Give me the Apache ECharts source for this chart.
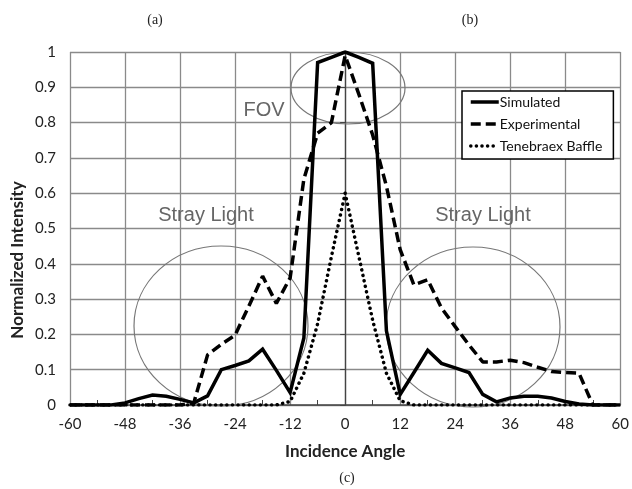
<!DOCTYPE html>
<html>
<head>
<meta charset="utf-8">
<script src="https://cdn.jsdelivr.net/npm/echarts@6/dist/echarts.min.js"></script>
<style>
    html, body { margin: 0; background: #fff; }
    #chart { width: 632px; height: 489px; }
</style>
</head>
<body>
<div id="chart"></div>
<script>
// incidence angle, every 3 degrees
const angles = [-60, -57, -54, -51, -48, -45, -42, -39, -36, -33, -30, -27, -24, -21, -18, -15, -12, -9, -6, -3,
    0, 3, 6, 9, 12, 15, 18, 21, 24, 27, 30, 33, 36, 39, 42, 45, 48, 51, 54, 57, 60]
const simulated = [0, 0, 0, 0, 0.006, 0.018, 0.028, 0.025, 0.016, 0.006, 0.026, 0.1, 0.112, 0.125, 0.158, 0.098, 0.035, 0.19, 0.97, 0.985,
    1.0, 0.985, 0.968, 0.21, 0.03, 0.092, 0.155, 0.118, 0.105, 0.092, 0.03, 0.009, 0.02, 0.025, 0.025, 0.02, 0.01, 0.003, 0, 0, 0]
const experimental = [0, 0, 0, 0, 0, 0, 0, 0, 0, 0.006, 0.142, 0.172, 0.198, 0.28, 0.365, 0.288, 0.36, 0.64, 0.77, 0.8,
    0.99, 0.88, 0.765, 0.62, 0.44, 0.34, 0.355, 0.275, 0.222, 0.17, 0.122, 0.122, 0.127, 0.12, 0.107, 0.095, 0.092, 0.09, 0, 0, 0]
const tenebraex = [0, 0, 0, 0, 0, 0, 0, 0, 0, 0, 0, 0, 0, 0, 0, 0, 0.01, 0.09, 0.23, 0.42,
    0.6, 0.42, 0.24, 0.09, 0.012, 0, 0, 0, 0, 0, 0, 0, 0, 0, 0, 0, 0, 0, 0, 0, 0]

const seriesNames = ['Simulated', 'Experimental', 'Tenebraex Baffle']

const toPoints = vals => angles.map((a, i) => [a, vals[i]])

const chart = echarts.init(document.getElementById('chart'))

const labelFont = { fontFamily: 'Lato', fontSize: 15, color: '#222' }
const titleFont = { fontFamily: 'Lato', fontSize: 17, fontWeight: 'bold', color: '#222' }
const noteStyle = { fontFamily: 'Liberation Sans', fontSize: 20, fill: '#666' }
const capStyle = { fontFamily: 'Liberation Serif', fontSize: 14, fill: '#222', align: 'center', verticalAlign: 'middle' }

chart.setOption({
    animation: false,
    backgroundColor: '#fff',
    grid: {
        left: 70,
        right: 9,
        top: 52,
        bottom: 84
    },
    legend: {
        data: seriesNames,
        orient: 'vertical',
        left: 462,
        top: 91,
        itemWidth: 28,
        itemHeight: 13,
        itemGap: 8,
        padding: [4, 11, 6, 7],
        backgroundColor: '#fff',
        borderColor: '#000',
        borderWidth: 1.5,
        borderRadius: 0,
        itemStyle: { opacity: 0 },
        lineStyle: { width: 3.5 },
        textStyle: { fontFamily: 'Lato', fontSize: 14, color: '#111', padding: [0, 0, 0, -4] }
    },
    xAxis: {
        type: 'value',
        min: -60,
        max: 60,
        interval: 12,
        name: 'Incidence Angle',
        nameLocation: 'middle',
        nameGap: 38,
        nameTextStyle: titleFont,
        axisLine: { show: true, lineStyle: { color: '#444', width: 1.5 } },
        axisTick: { show: false, inside: true },
        minorTick: { show: true, splitNumber: 2, length: 5, lineStyle: { color: '#444', width: 1 } },
        axisLabel: Object.assign({ margin: 12 }, labelFont),
        splitLine: { show: true, lineStyle: { color: '#8a8a8a', width: 1.3 } }
    },
    yAxis: {
        type: 'value',
        min: 0,
        max: 1,
        interval: 0.1,
        axisLine: { show: true, lineStyle: { color: '#444', width: 1.3 } },
        axisTick: { show: true, length: 5, lineStyle: { color: '#444' } },
        axisLabel: Object.assign({ margin: 14 }, labelFont),
        splitLine: { show: true, lineStyle: { color: '#8a8a8a', width: 1.3 } }
    },
    graphic: [
        // FOV and stray light call-outs
        { type: 'ellipse', z: 1, shape: { cx: 348, cy: 88, rx: 57, ry: 36 }, style: { fill: 'none', stroke: '#777', lineWidth: 1.2 } },
        { type: 'ellipse', z: 1, shape: { cx: 221, cy: 326, rx: 87, ry: 80 }, style: { fill: 'none', stroke: '#777', lineWidth: 1.2 } },
        { type: 'ellipse', z: 1, shape: { cx: 473, cy: 327, rx: 87, ry: 80 }, style: { fill: 'none', stroke: '#777', lineWidth: 1.2 } },
        { type: 'text', z: 5, x: 264, y: 110, style: Object.assign({ text: 'FOV', align: 'center', verticalAlign: 'middle' }, noteStyle) },
        { type: 'text', z: 5, x: 206, y: 215, style: Object.assign({ text: 'Stray Light', align: 'center', verticalAlign: 'middle' }, noteStyle) },
        { type: 'text', z: 5, x: 483, y: 215, style: Object.assign({ text: 'Stray Light', align: 'center', verticalAlign: 'middle' }, noteStyle) },
        {
            type: 'text', x: 18, y: 260, rotation: Math.PI / 2,
            style: { text: 'Normalized Intensity', align: 'center', verticalAlign: 'middle', fontFamily: 'Lato', fontSize: 17, fontWeight: 'bold', fill: '#222' }
        },
        { type: 'text', x: 155, y: 20, style: Object.assign({ text: '(a)' }, capStyle) },
        { type: 'text', x: 470, y: 20, style: Object.assign({ text: '(b)' }, capStyle) },
        { type: 'text', x: 347, y: 478, style: Object.assign({ text: '(c)' }, capStyle) }
    ],
    series: [
        {
            name: seriesNames[0],
            type: 'line',
            symbol: 'none',
            z: 3,
            lineStyle: { color: '#000', width: 3.5, join: 'miter' },
            itemStyle: { color: '#000' },
            data: toPoints(simulated)
        },
        {
            name: seriesNames[1],
            type: 'line',
            symbol: 'none',
            z: 3,
            lineStyle: { color: '#000', width: 3.5, type: [10, 5] },
            itemStyle: { color: '#000' },
            data: toPoints(experimental)
        },
        {
            name: seriesNames[2],
            type: 'line',
            symbol: 'none',
            z: 4,
            lineStyle: { color: '#000', width: 3.5, type: [0.1, 5.5], cap: 'round' },
            itemStyle: { color: '#000' },
            data: toPoints(tenebraex)
        }
    ]
})
</script>
</body>
</html>
